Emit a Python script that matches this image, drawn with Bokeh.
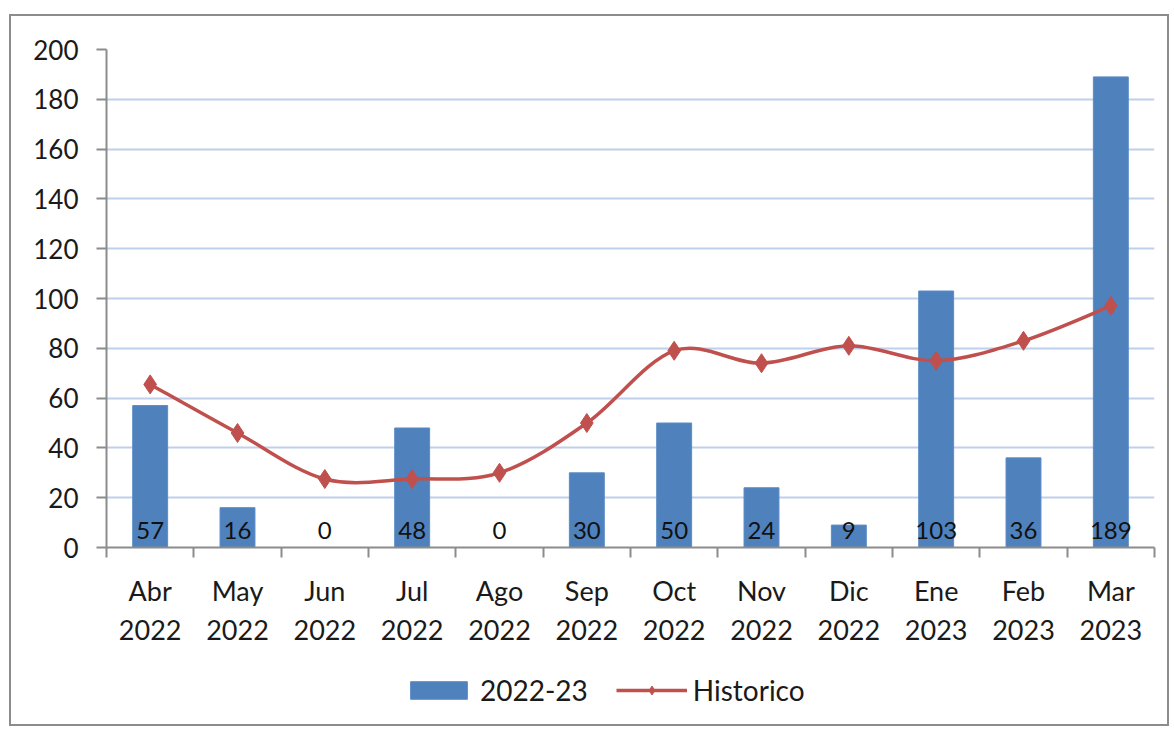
import numpy as np
from bokeh.plotting import figure
from bokeh.models import Range1d, FixedTicker, Legend, LegendItem, ColumnDataSource
from bokeh.layouts import column
from bokeh.core.properties import value
from bokeh.embed import file_html
from bokeh.resources import INLINE

months = ["Abr", "May", "Jun", "Jul", "Ago", "Sep", "Oct", "Nov", "Dic", "Ene", "Feb", "Mar"]
years = ["2022", "2022", "2022", "2022", "2022", "2022", "2022", "2022", "2022", "2023", "2023", "2023"]
actual = [57, 16, 0, 48, 0, 30, 50, 24, 9, 103, 36, 189]
historico = [65.5, 46, 27.5, 27.5, 30, 50, 79, 74, 81, 75, 83, 97]
y_ticks = list(range(0, 201, 20))
series_names = ["2022-23", "Historico"]

FONT = "Lato"
BLUE = "#4F81BD"
RED = "#C0504D"
W = 1156

n = len(months)
xc = np.arange(n) + 0.5

p = figure(width=W, height=646, output_backend="svg", toolbar_location=None,
           x_range=Range1d(0, n), y_range=Range1d(0, 200),
           min_border_left=95, min_border_right=13, min_border_top=33, min_border_bottom=115)
p.outline_line_color = None
p.background_fill_color = "white"
p.border_fill_color = "white"

# grid
p.xgrid.grid_line_color = None
p.ygrid.ticker = FixedTicker(ticks=y_ticks)
p.ygrid.grid_line_color = "#BFD0EC"
p.ygrid.grid_line_width = 2

# y axis
p.yaxis.ticker = FixedTicker(ticks=y_ticks)
p.yaxis.axis_line_color = "#8c8c8c"
p.yaxis.axis_line_width = 2
p.yaxis.major_tick_line_color = "#8c8c8c"
p.yaxis.major_tick_line_width = 2
p.yaxis.major_tick_out = 10
p.yaxis.major_tick_in = 0
p.yaxis.minor_tick_line_color = None
p.yaxis.major_label_standoff = 18
p.yaxis.major_label_text_font = FONT
p.yaxis.major_label_text_font_size = "26px"
p.yaxis.major_label_text_color = "#1a1a1a"

# x axis
p.xaxis.ticker = FixedTicker(ticks=list(xc), minor_ticks=list(range(n + 1)))
p.xaxis.major_label_overrides = {float(x): f"{m}\n{y}" for x, m, y in zip(xc, months, years)}
p.xaxis.axis_line_color = "#8c8c8c"
p.xaxis.axis_line_width = 2
p.xaxis.major_tick_line_color = None
p.xaxis.major_tick_out = 0
p.xaxis.major_tick_in = 0
p.xaxis.minor_tick_line_color = "#8c8c8c"
p.xaxis.minor_tick_line_width = 2
p.xaxis.minor_tick_out = 10
p.xaxis.minor_tick_in = 0
p.xaxis.major_label_standoff = 16
p.xaxis.major_label_text_font = FONT
p.xaxis.major_label_text_font_size = "27px"
p.xaxis.major_label_text_color = "#1a1a1a"

# bars
src = ColumnDataSource(dict(x=xc, top=actual, lbl=[str(v) for v in actual]))
p.vbar(x="x", top="top", width=0.4, bottom=0, source=src,
       fill_color=BLUE, line_color="#5b8cc6", line_width=1)
p.text(x="x", y=0, text="lbl", source=src, text_align="center", text_baseline="bottom",
       y_offset=-9, text_font=value(FONT), text_font_size="24px", text_color="#111111")

# smoothed line (Catmull-Rom through the historic values)
h = np.array(historico, dtype=float)
xe = np.concatenate([[xc[0]], xc, [xc[-1]]])
he = np.concatenate([[h[0]], h, [h[-1]]])
x0 = xc[:-1]; y0 = h[:-1]; x1 = xc[1:]; y1 = h[1:]
cx0 = x0 + (xe[2:-1] - xe[0:-3]) / 6.0
cy0 = y0 + (he[2:-1] - he[0:-3]) / 6.0
cx1 = x1 - (xe[3:] - xe[1:-2]) / 6.0
cy1 = y1 - (he[3:] - he[1:-2]) / 6.0
p.bezier(x0=x0, y0=y0, x1=x1, y1=y1, cx0=cx0, cy0=cy0, cx1=cx1, cy1=cy1,
         line_color=RED, line_width=3.5)
p.scatter(x=xc, y=h, marker="diamond", size=19, fill_color=RED, line_color=RED)

# legend strip (hidden copies of the series, only their legend entries show)
q = figure(width=W, height=62, output_backend="svg", toolbar_location=None,
           x_range=Range1d(0, n), y_range=Range1d(0, 200),
           min_border_left=0, min_border_right=0, min_border_top=0, min_border_bottom=0)
q.axis.visible = False
q.grid.visible = False
q.outline_line_color = None
q.border_fill_color = "white"
lb = q.vbar(x=xc, top=actual, width=0.4, fill_color=BLUE, line_color="#5b8cc6", visible=False)
ll = q.line(x=xc, y=h, line_color=RED, line_width=3.5, visible=False)
lm = q.scatter(x=xc, y=h, marker="diamond", size=19, fill_color=RED, line_color=RED, visible=False)
legend = Legend(items=[LegendItem(label=series_names[0], renderers=[lb]),
                       LegendItem(label=series_names[1], renderers=[ll, lm])],
                orientation="horizontal", location=(297, 17))
legend.label_text_font = FONT
legend.label_text_font_size = "28px"
legend.label_text_color = "#1a1a1a"
legend.glyph_width = 71
legend.glyph_height = 22
legend.spacing = 28
legend.label_standoff = 6
legend.border_line_color = None
legend.background_fill_alpha = 0
legend.inactive_fill_alpha = 0
legend.margin = 0
legend.padding = 4
q.add_layout(legend, "center")

layout = column(p, q, spacing=0)
layout.styles = {"border": "2px solid #8c8c8c", "margin-top": "14px", "margin-left": "9px",
                 "background-color": "white"}

open("out.html", "w").write(file_html(layout, INLINE))
